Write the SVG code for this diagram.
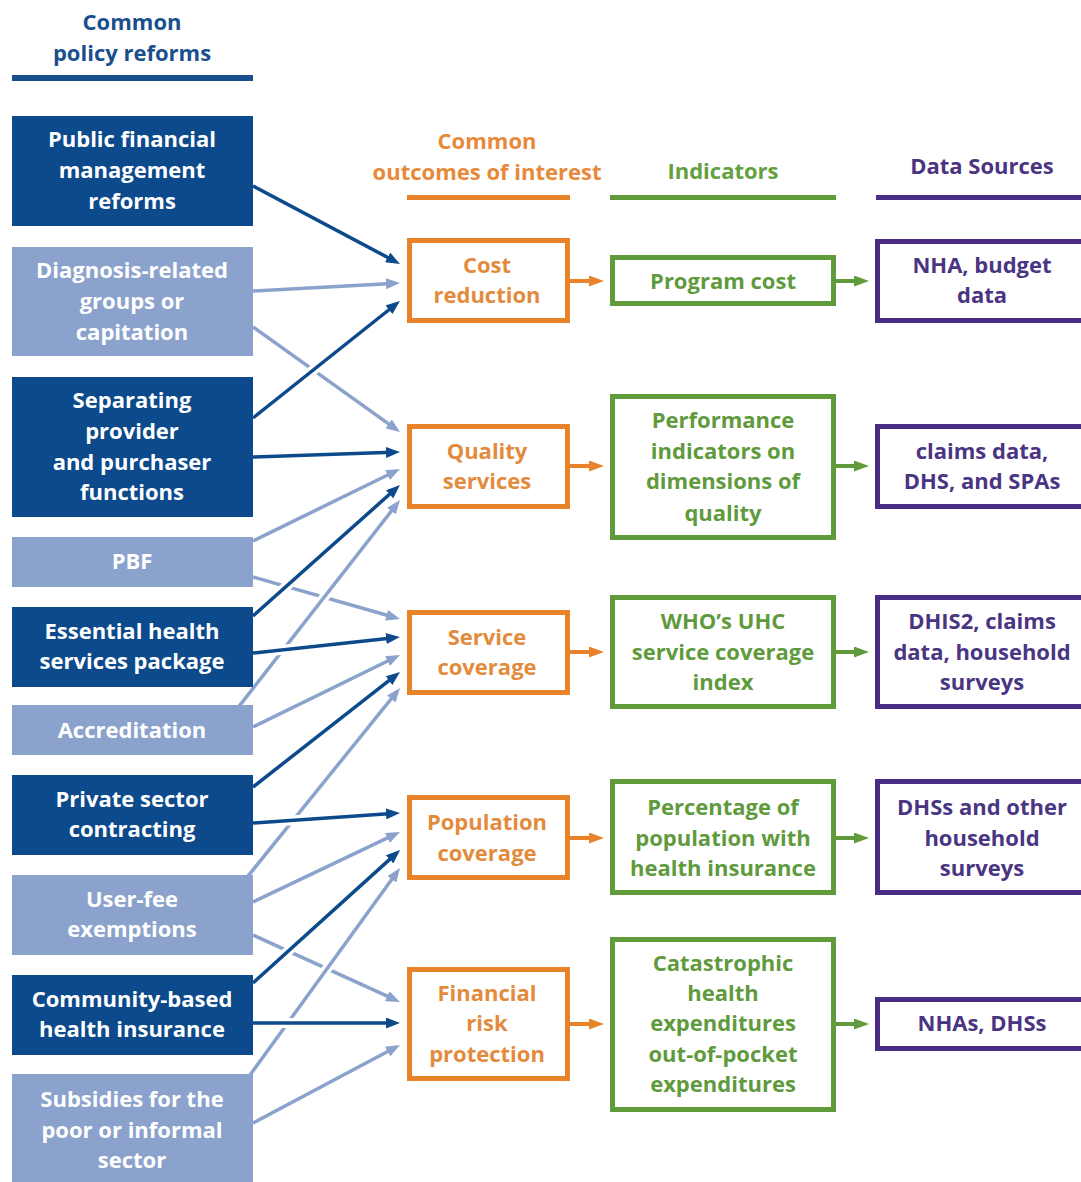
<svg xmlns="http://www.w3.org/2000/svg" width="1081" height="1182" viewBox="0 0 1081 1182">
<style>
text{font-family:"Open Sans","Noto Sans","Liberation Sans",sans-serif;font-weight:bold;font-size:22px;text-anchor:middle}
.hb{fill:#1a4f8d}.ho{fill:#e8893a}.hg{fill:#63a03f}.hp{fill:#4b3382}
.dk{fill:#0c4a8c}.lt{fill:#8ba3cc}
.wt{fill:#ffffff}
.ob{fill:#fff;stroke:#e8832a;stroke-width:5}
.gb{fill:#fff;stroke:#5f9b3a;stroke-width:5}
.pb{fill:#fff;stroke:#4b2c84;stroke-width:5}
.ot{fill:#e38b3d}.gt{fill:#5f9a3d}.pt{fill:#4a3583}
.halo{stroke:#fff;stroke-width:10;fill:none}
.cd{stroke:#0c4a8c;stroke-width:3.5;fill:none;marker-end:url(#ad)}
.cl{stroke:#8ba3cc;stroke-width:3.5;fill:none;marker-end:url(#al)}
.co{stroke:#e8832a;stroke-width:4;fill:none;marker-end:url(#ao)}
.cg{stroke:#5f9b3a;stroke-width:4;fill:none;marker-end:url(#ag)}
</style>
<defs>
<marker id="ad" markerUnits="userSpaceOnUse" viewBox="0 0 14 11" markerWidth="14" markerHeight="11" refX="6" refY="5.5" orient="auto"><path d="M0,0L14,5.5L0,11z" fill="#0c4a8c"/></marker>
<marker id="al" markerUnits="userSpaceOnUse" viewBox="0 0 14 11" markerWidth="14" markerHeight="11" refX="6" refY="5.5" orient="auto"><path d="M0,0L14,5.5L0,11z" fill="#8ba3cc"/></marker>
<marker id="ao" markerUnits="userSpaceOnUse" viewBox="0 0 15 11" markerWidth="15" markerHeight="11" refX="7" refY="5.5" orient="auto"><path d="M0,0L15,5.5L0,11z" fill="#e8832a"/></marker>
<marker id="ag" markerUnits="userSpaceOnUse" viewBox="0 0 15 11" markerWidth="15" markerHeight="11" refX="7" refY="5.5" orient="auto"><path d="M0,0L15,5.5L0,11z" fill="#5f9b3a"/></marker>
</defs>
<rect width="1081" height="1182" fill="#fff"/>

<g id="headers">
<text class="hb" x="132" y="30">Common</text>
<text class="hb" x="132" y="61">policy reforms</text>
<rect x="12" y="75" width="241" height="6" fill="#1a4f8d"/>
<text class="ho" x="487" y="149">Common</text>
<text class="ho" x="487" y="180">outcomes of interest</text>
<rect x="407" y="195" width="163" height="5" fill="#e8832a"/>
<text class="hg" x="723" y="179">Indicators</text>
<rect x="610" y="195" width="226" height="5" fill="#5f9b3a"/>
<text class="hp" x="982" y="174">Data Sources</text>
<rect x="876" y="195" width="205" height="5" fill="#4b2c84"/>
</g>

<g id="connectors">
<g id="layer1">
<line class="halo" x1="253" y1="327" x2="382.1" y2="419.2"/><line class="cl" x1="253" y1="327" x2="393.5" y2="427.4"/>
<line class="halo" x1="253" y1="577" x2="378.9" y2="613"/><line class="cl" x1="253" y1="577" x2="392.3" y2="616.8"/>
<line class="halo" x1="253" y1="935" x2="380" y2="992.9"/><line class="cl" x1="253" y1="935" x2="392.7" y2="998.7"/>
</g>
<g id="layer2">
<line class="halo" x1="227.7" y1="720.8" x2="386.5" y2="517.3"/><line class="cl" x1="227.7" y1="720.8" x2="395.1" y2="506.3"/>
<line class="halo" x1="235.4" y1="891.6" x2="386.2" y2="705.1"/><line class="cl" x1="235.4" y1="891.6" x2="395" y2="694.2"/>
<line class="halo" x1="238.3" y1="1091.2" x2="387.1" y2="885.8"/><line class="cl" x1="238.3" y1="1091.2" x2="395.3" y2="874.5"/>
</g>
<g id="layer3">
<line class="halo" x1="253" y1="186" x2="380.6" y2="253.7"/><line class="cd" x1="253" y1="186" x2="392.9" y2="260.2"/>
<line class="halo" x1="253" y1="291" x2="378" y2="284.2"/><line class="cl" x1="253" y1="291" x2="392" y2="283.4"/>
<line class="halo" x1="253" y1="418" x2="382.8" y2="314.7"/><line class="cd" x1="253" y1="418" x2="393.7" y2="306"/>
<line class="halo" x1="253" y1="457" x2="378" y2="452.7"/><line class="cd" x1="253" y1="457" x2="392" y2="452.3"/>
<line class="halo" x1="253" y1="541" x2="380.2" y2="478.7"/><line class="cl" x1="253" y1="541" x2="392.8" y2="472.5"/>
<line class="halo" x1="253" y1="616" x2="383.6" y2="499.6"/><line class="cd" x1="253" y1="616" x2="394" y2="490.3"/>
<line class="halo" x1="253" y1="653" x2="378.1" y2="639.4"/><line class="cd" x1="253" y1="653" x2="392" y2="637.9"/>
<line class="halo" x1="253" y1="727" x2="380.2" y2="664.7"/><line class="cl" x1="253" y1="727" x2="392.8" y2="658.5"/>
<line class="halo" x1="253" y1="787" x2="382.7" y2="685.6"/><line class="cd" x1="253" y1="787" x2="393.7" y2="676.9"/>
<line class="halo" x1="253" y1="823" x2="378.1" y2="814.5"/><line class="cd" x1="253" y1="823" x2="392" y2="813.5"/>
<line class="halo" x1="253" y1="902" x2="380.1" y2="841.5"/><line class="cl" x1="253" y1="902" x2="392.8" y2="835.4"/>
<line class="halo" x1="253" y1="983" x2="383.7" y2="864.8"/><line class="cd" x1="253" y1="983" x2="394.1" y2="855.4"/>
<line class="halo" x1="253" y1="1023" x2="378" y2="1023"/><line class="cd" x1="253" y1="1023" x2="392" y2="1023"/>
<line class="halo" x1="253" y1="1123" x2="380.6" y2="1055.3"/><line class="cl" x1="253" y1="1123" x2="392.9" y2="1048.8"/>
</g>
<g id="outcome-arrows">
<line class="co" x1="570" y1="281" x2="596" y2="281"/>
<line class="co" x1="570" y1="466" x2="596" y2="466"/>
<line class="co" x1="570" y1="652" x2="596" y2="652"/>
<line class="co" x1="570" y1="838" x2="596" y2="838"/>
<line class="co" x1="570" y1="1024" x2="596" y2="1024"/>
</g>
<g id="indicator-arrows">
<line class="cg" x1="836" y1="281" x2="861" y2="281"/>
<line class="cg" x1="836" y1="466" x2="861" y2="466"/>
<line class="cg" x1="836" y1="652" x2="861" y2="652"/>
<line class="cg" x1="836" y1="838" x2="861" y2="838"/>
<line class="cg" x1="836" y1="1024" x2="861" y2="1024"/>
</g>
</g>

<g id="reform-pfm"><rect class="dk" x="12" y="116" width="241" height="110"/>
<text class="wt" x="132" y="147">Public financial</text><text class="wt" x="132" y="178">management</text><text class="wt" x="132" y="209">reforms</text></g>
<g id="reform-drg"><rect class="lt" x="12" y="247" width="241" height="109"/>
<text class="wt" x="132" y="278">Diagnosis-related</text><text class="wt" x="132" y="309">groups or</text><text class="wt" x="132" y="340">capitation</text></g>
<g id="reform-separating"><rect class="dk" x="12" y="377" width="241" height="140"/>
<text class="wt" x="132" y="408">Separating</text><text class="wt" x="132" y="439">provider</text><text class="wt" x="132" y="470">and purchaser</text><text class="wt" x="132" y="500">functions</text></g>
<g id="reform-pbf"><rect class="lt" x="12" y="537" width="241" height="50"/>
<text class="wt" x="132" y="569">PBF</text></g>
<g id="reform-ehsp"><rect class="dk" x="12" y="607" width="241" height="80"/>
<text class="wt" x="132" y="639">Essential health</text><text class="wt" x="132" y="669">services package</text></g>
<g id="reform-accreditation"><rect class="lt" x="12" y="705" width="241" height="50"/>
<text class="wt" x="132" y="738">Accreditation</text></g>
<g id="reform-private"><rect class="dk" x="12" y="775" width="241" height="80"/>
<text class="wt" x="132" y="807">Private sector</text><text class="wt" x="132" y="837">contracting</text></g>
<g id="reform-userfee"><rect class="lt" x="12" y="875" width="241" height="80"/>
<text class="wt" x="132" y="907">User-fee</text><text class="wt" x="132" y="937">exemptions</text></g>
<g id="reform-cbhi"><rect class="dk" x="12" y="975" width="241" height="80"/>
<text class="wt" x="132" y="1007">Community-based</text><text class="wt" x="132" y="1037">health insurance</text></g>
<g id="reform-subsidies"><rect class="lt" x="12" y="1074" width="241" height="110"/>
<text class="wt" x="132" y="1107">Subsidies for the</text><text class="wt" x="132" y="1138">poor or informal</text><text class="wt" x="132" y="1168">sector</text></g>

<g id="outcome-cost"><rect class="ob" x="409.5" y="240.5" width="158" height="80"/>
<text class="ot" x="487" y="273">Cost</text><text class="ot" x="487" y="303">reduction</text></g>
<g id="outcome-quality"><rect class="ob" x="409.5" y="426.5" width="158" height="80"/>
<text class="ot" x="487" y="459">Quality</text><text class="ot" x="487" y="489">services</text></g>
<g id="outcome-service"><rect class="ob" x="409.5" y="612.5" width="158" height="80"/>
<text class="ot" x="487" y="645">Service</text><text class="ot" x="487" y="675">coverage</text></g>
<g id="outcome-population"><rect class="ob" x="409.5" y="797.5" width="158" height="80"/>
<text class="ot" x="487" y="830">Population</text><text class="ot" x="487" y="861">coverage</text></g>
<g id="outcome-financial"><rect class="ob" x="409.5" y="969.5" width="158" height="109"/>
<text class="ot" x="487" y="1001">Financial</text><text class="ot" x="487" y="1031">risk</text><text class="ot" x="487" y="1062">protection</text></g>

<g id="indicator-cost"><rect class="gb" x="612.5" y="257.5" width="221" height="46"/>
<text class="gt" x="723" y="289">Program cost</text></g>
<g id="indicator-quality"><rect class="gb" x="612.5" y="396.5" width="221" height="141"/>
<text class="gt" x="723" y="428">Performance</text><text class="gt" x="723" y="459">indicators on</text><text class="gt" x="723" y="489">dimensions of</text><text class="gt" x="723" y="521">quality</text></g>
<g id="indicator-service"><rect class="gb" x="612.5" y="597.5" width="221" height="109"/>
<text class="gt" x="723" y="629">WHO’s UHC</text><text class="gt" x="723" y="660">service coverage</text><text class="gt" x="723" y="690">index</text></g>
<g id="indicator-population"><rect class="gb" x="612.5" y="781.5" width="221" height="111"/>
<text class="gt" x="723" y="815">Percentage of</text><text class="gt" x="723" y="846">population with</text><text class="gt" x="723" y="876">health insurance</text></g>
<g id="indicator-financial"><rect class="gb" x="612.5" y="939.5" width="221" height="170"/>
<text class="gt" x="723" y="971">Catastrophic</text><text class="gt" x="723" y="1001">health</text><text class="gt" x="723" y="1031">expenditures</text><text class="gt" x="723" y="1062">out-of-pocket</text><text class="gt" x="723" y="1092">expenditures</text></g>

<g id="source-cost"><rect class="pb" x="877.5" y="241.5" width="220" height="79"/>
<text class="pt" x="982" y="273">NHA, budget</text><text class="pt" x="982" y="303">data</text></g>
<g id="source-quality"><rect class="pb" x="877.5" y="426.5" width="220" height="80"/>
<text class="pt" x="982" y="459">claims data,</text><text class="pt" x="982" y="489">DHS, and SPAs</text></g>
<g id="source-service"><rect class="pb" x="877.5" y="597.5" width="220" height="109"/>
<text class="pt" x="982" y="629">DHIS2, claims</text><text class="pt" x="982" y="660">data, household</text><text class="pt" x="982" y="690">surveys</text></g>
<g id="source-population"><rect class="pb" x="877.5" y="781.5" width="220" height="111"/>
<text class="pt" x="982" y="815">DHSs and other</text><text class="pt" x="982" y="846">household</text><text class="pt" x="982" y="876">surveys</text></g>
<g id="source-financial"><rect class="pb" x="877.5" y="999.5" width="220" height="49"/>
<text class="pt" x="982" y="1031">NHAs, DHSs</text></g>
</svg>
